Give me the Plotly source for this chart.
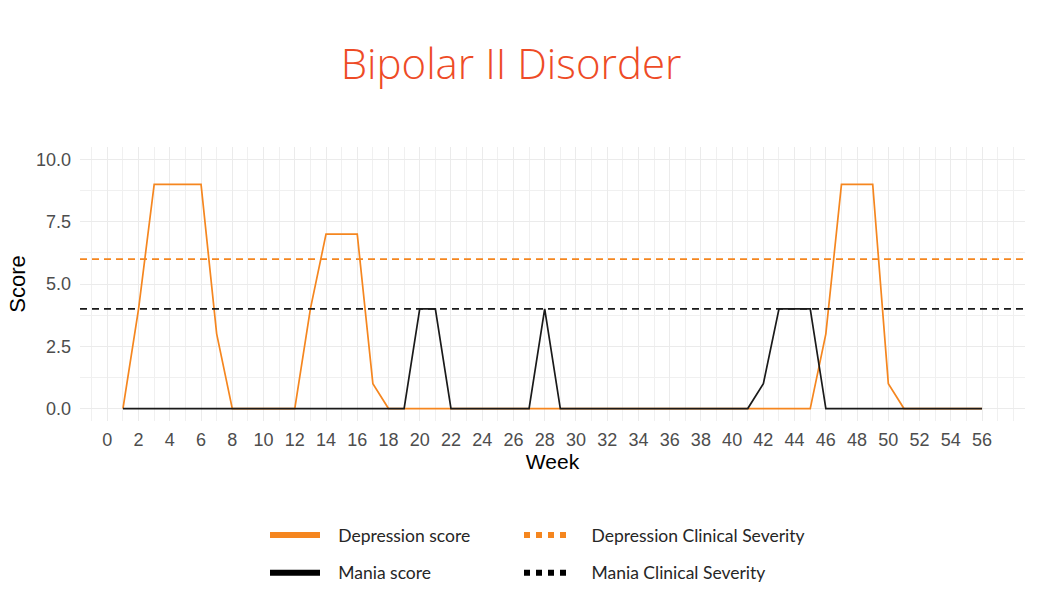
import plotly.graph_objects as go

weeks = list(range(1, 57))
depression = [0, 4, 9, 9, 9, 9, 3, 0, 0, 0, 0, 0, 4, 7, 7, 7, 1, 0, 0, 0,
              0, 0, 0, 0, 0, 0, 0, 0, 0, 0, 0, 0, 0, 0, 0, 0, 0, 0, 0, 0,
              0, 0, 0, 0, 0, 3, 9, 9, 9, 1, 0, 0, 0, 0, 0, 0]
mania = [0, 0, 0, 0, 0, 0, 0, 0, 0, 0, 0, 0, 0, 0, 0, 0, 0, 0, 0, 4,
         4, 0, 0, 0, 0, 0, 0, 4, 0, 0, 0, 0, 0, 0, 0, 0, 0, 0, 0, 0,
         0, 1, 4, 4, 4, 0, 0, 0, 0, 0, 0, 0, 0, 0, 0, 0]
depression_threshold = 6
mania_threshold = 4
x_ticks = list(range(0, 57, 2))
y_ticks = [0, 2.5, 5, 7.5, 10]
y_tick_labels = ["0.0", "2.5", "5.0", "7.5", "10.0"]

ORANGE = "#F5861F"
BLACK = "#1A1A1A"
TICKFONT = dict(family="Liberation Sans, Arial, sans-serif", size=18, color="#4D4D4D")
LEGFONT = dict(family="Lato, sans-serif", size=17.5, color="#262626")

fig = go.Figure()
fig.add_trace(go.Scatter(x=weeks, y=depression, mode="lines",
                         line=dict(color=ORANGE, width=1.7), showlegend=False))
fig.add_trace(go.Scatter(x=weeks, y=mania, mode="lines",
                         line=dict(color=BLACK, width=1.7), showlegend=False))

fig.add_hline(y=depression_threshold, line=dict(color=ORANGE, width=1.7, dash="7px,5px"))
fig.add_hline(y=mania_threshold, line=dict(color=BLACK, width=1.7, dash="7px,5px"))

# legend entries
fig.add_trace(go.Scatter(x=[None], y=[None], mode="lines", name="\u2002 Depression score",
                         line=dict(color=ORANGE, width=6), legend="legend", legendgroup="a"))
fig.add_trace(go.Scatter(x=[None], y=[None], mode="lines", name="\u2002 Mania score",
                         line=dict(color="black", width=6), legend="legend", legendgroup="b"))
fig.add_trace(go.Scatter(x=[None], y=[None], mode="lines", name="\u2002\u2002Depression Clinical Severity",
                         line=dict(color=ORANGE, width=6, dash="dot"), legend="legend2", legendgroup="c"))
fig.add_trace(go.Scatter(x=[None], y=[None], mode="lines", name="\u2002\u2002Mania Clinical Severity",
                         line=dict(color="black", width=6, dash="dot"), legend="legend2", legendgroup="d"))

W, H = 1039, 600


def px_x(p):
    return (p - 80) / 945.0


fig.update_layout(
    width=W, height=H,
    margin=dict(l=80, r=14, t=146.5, b=179.2),
    paper_bgcolor="white", plot_bgcolor="white",
    title=dict(text="Bipolar II Disorder", x=511 / W, xanchor="center", xref="container",
               y=1 - 64 / H, yanchor="middle", yref="container",
               font=dict(family="Open Sans, sans-serif", size=42, color="#EE4B26", weight=300)),
    xaxis=dict(range=[-1.75, 58.75], tickmode="array", tickvals=x_ticks, automargin=False,
               ticktext=[str(v) for v in x_ticks], showgrid=True, gridcolor="#EBEBEB", gridwidth=1.3,
               zeroline=False, showline=False, ticks="", tickfont=TICKFONT, ticklabelstandoff=6,
               minor=dict(dtick=1, tick0=0, showgrid=True, gridcolor="#F0F0F0", gridwidth=1),
               title=dict(text="Week", standoff=4,
                          font=dict(family="Liberation Sans, Arial, sans-serif", size=21, color="black"))),
    yaxis=dict(range=[-0.5, 10.5], tickmode="array", tickvals=y_ticks, ticktext=y_tick_labels,
               automargin=False,
               showgrid=True, gridcolor="#EBEBEB", gridwidth=1.3, zeroline=False, showline=False,
               ticks="", tickfont=TICKFONT, ticklabelstandoff=8,
               minor=dict(dtick=1.25, tick0=0, showgrid=True, gridcolor="#F0F0F0", gridwidth=1),
               title=dict(text="Score", standoff=4,
                          font=dict(family="Liberation Sans, Arial, sans-serif", size=22, color="black"))),
    legend=dict(x=px_x(265), y=1 - 517 / H, xref="paper", yref="container",
                xanchor="left", yanchor="top", orientation="v",
                font=LEGFONT, itemwidth=50, tracegroupgap=12, bgcolor="rgba(0,0,0,0)"),
    legend2=dict(x=px_x(519), y=1 - 517 / H, xref="paper", yref="container",
                 xanchor="left", yanchor="top", orientation="v",
                 font=LEGFONT, itemwidth=45, tracegroupgap=12, bgcolor="rgba(0,0,0,0)"),
)

fig.write_html("out.html")
